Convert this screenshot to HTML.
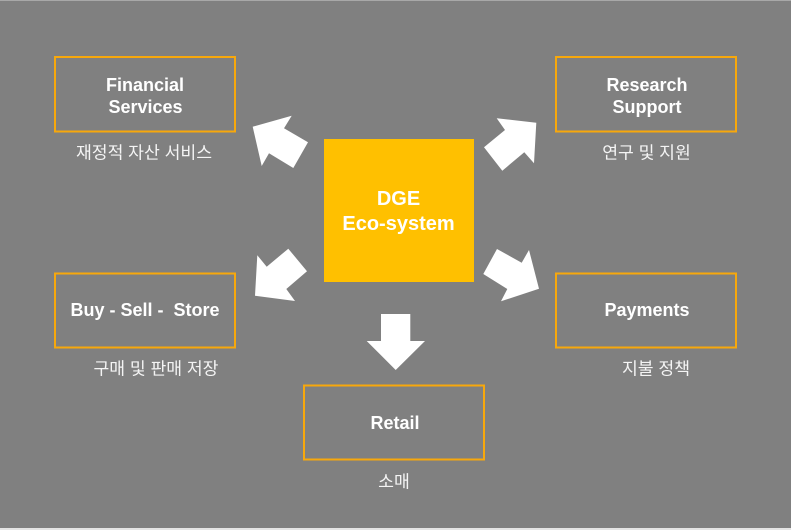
<!DOCTYPE html>
<html>
<head>
<meta charset="utf-8">
<style>
html,body{margin:0;padding:0;background:#808080}
svg{display:block}
text{font-family:"Liberation Sans","Noto Sans CJK KR",sans-serif;fill:#fff;text-anchor:middle}
.b{font-weight:bold;font-size:18px}
.k{font-size:17.200px;fill:#f4f4f4}
.box{fill:none;stroke:#f7a80c;stroke-width:2}
</style>
</head>
<body>
<svg width="791" height="530" viewBox="0 0 791 530" xmlns="http://www.w3.org/2000/svg">
<rect width="791" height="530" fill="#808080"/>
<rect width="791" height="1" fill="#a8a8a8"/>
<rect y="528" width="791" height="2" fill="#e4e4e4"/>

<rect class="box" x="55" y="57" width="180" height="74.500"/>
<rect class="box" x="556" y="57" width="180" height="74.500"/>
<rect class="box" x="55" y="273.500" width="180" height="74"/>
<rect class="box" x="556" y="273.500" width="180" height="74"/>
<rect class="box" x="304" y="385.500" width="180" height="74"/>
<rect x="324" y="139" width="150" height="143" fill="#ffc000"/>

<g fill="#fff">
<polygon points="291.700,115.700 252.700,126.700 261.700,166 269,153.300 293.300,168 308,142.300 284,128.300"/>
<polygon points="496.700,118.300 536.300,122.700 534,163.300 524.300,152.300 502.300,170.700 484,147.300 505,130"/>
<polygon points="288.300,248.700 307,271.300 286.300,289 295,301 255,295.700 257.300,255.300 266.700,266.700"/>
<polygon points="497,249 521.700,262.700 529,250 539,288.700 501,301.300 507.300,289 483.300,274"/>
<polygon points="381,314 410.300,314 410.300,341 425,341 395.700,370 366.700,341 381,341"/>
</g>

<text class="b" x="145" y="91">Financial</text>
<text class="b" x="145.500" y="113">Services</text>
<text class="b" x="647" y="91">Research</text>
<text class="b" x="647" y="113">Support</text>
<text class="b" x="145" y="316">Buy - Sell -&#160;&#160;Store</text>
<text class="b" x="647" y="316">Payments</text>
<text class="b" x="395" y="429">Retail</text>
<text class="b" x="398.500" y="205" style="font-size:20px">DGE</text>
<text class="b" x="398.500" y="230" style="font-size:20px">Eco-system</text>

<text class="k" x="144" y="158.500">재정적 자산 서비스</text>
<text class="k" x="646.500" y="158.500">연구 및 지원</text>
<text class="k" x="156" y="374.500">구매 및 판매 저장</text>
<text class="k" x="656" y="374.500">지불 정책</text>
<text class="k" x="394" y="487.500">소매</text>
</svg>
</body>
</html>
